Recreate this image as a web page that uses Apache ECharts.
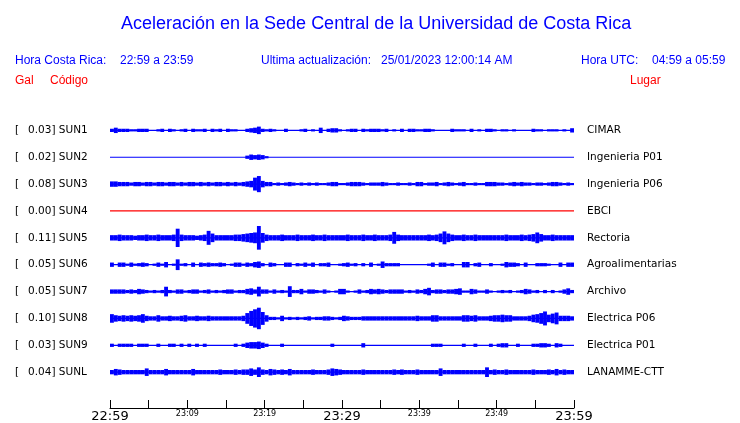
<!DOCTYPE html>
<html><head><meta charset="utf-8">
<script src="https://cdn.jsdelivr.net/npm/echarts@6/dist/echarts.min.js"></script>
<style>html,body{margin:0;padding:0;background:#fff}#c{width:740px;height:423px}</style>
</head><body><div id="c"></div>
<script>
// ---- data ----
const codes  = ['SUN1','SUN2','SUN3','SUN4','SUN5','SUN6','SUN7','SUN8','SUN9','SUNL'];
const peaks  = ['0.03','0.02','0.08','0.00','0.11','0.05','0.05','0.10','0.03','0.04'];
const places = ['CIMAR','Ingenieria P01','Ingenieria P06','EBCI','Rectoria','Agroalimentarias','Archivo','Electrica P06','Electrica P01','LANAMME-CTT'];
const tickLabels = ['22:59','','23:09','','23:19','','23:29','','23:39','','23:49','','23:59'];
const binMinutes = 0.5;     // each envelope character covers half a minute
const ampUnit = 0.005;      // Gal per envelope step (base-36 digit)
const traceSpacing = 0.25;  // Gal between trace baselines

const envSUN1 = "3533322333"+"0023032023"+"0322303230"+"3220034573"+"2320030002"+"3020503442"+"0233032333"+"2302030332"+"2332000032"+"2203020332"+"0220200003"+"2202220204";
const envSUN2 = "0000000000"+"0000000000"+"0000000000"+"0000035454"+"2000000000"+"0000000000"+"0000000000"+"0000000000"+"0000000000"+"0000000000"+"0000000000"+"0000000000";
const envSUN3 = "5544434434"+"4344344343"+"4434343443"+"4343456cf6"+"4423234323"+"2323223442"+"2344432333"+"4322322324"+"4233423432"+"3422322444"+"3323434332"+"3323443232";
const envSUN4 = "0000000000"+"0000000000"+"0000000000"+"0000000000"+"0000000000"+"0000000000"+"0000000000"+"0000000000"+"0000000000"+"0000000000"+"0000000000"+"0000000000";
const envSUN5 = "5565554556"+"5565556h65"+"55456d8555"+"5566789am9"+"6555655565"+"5565565555"+"5655565565"+"556b655555"+"556568c865"+"5655655555"+"5565556567"+"a755655555";
const envSUN6 = "4044242343"+"0242502a23"+"0404343343"+"0244243563"+"0430044032"+"4240334002"+"3423030402"+"6333300000"+"0024044230"+"0550340030"+"0254430400"+"3332004044";
const envSUN7 = "4444343543"+"2323932442"+"3442342323"+"4423356494"+"424232a335"+"2443242025"+"5202423545"+"4344442324"+"3573443445"+"6225422420"+"2323023542"+"3030302463";
const envSUN8 = "8656565685"+"4464454456"+"4454454444"+"44445aehkc"+"6332523232"+"3423344323"+"5433344444"+"4444444445"+"4446644444"+"4665644456"+"6766444457"+"8ad79b5554";
const envSUN9 = "3033330333"+"0030033030"+"3030300000"+"0030356675"+"3000300000"+"0000000300"+"0000040000"+"0000000000"+"0003330000"+"0300300030"+"3440030003"+"3443043000";
const envSUNL = "4654444447"+"4444644444"+"4644444454"+"4454557595"+"4654546444"+"4454445765"+"4444454444"+"4445454445"+"4444474444"+"4444444945"+"4454444445"+"4445464544";
const envelopes = [envSUN1,envSUN2,envSUN3,envSUN4,envSUN5,envSUN6,envSUN7,envSUN8,envSUN9,envSUNL];

// ---- chart ----
const BLUE = '#0000ff', RED = '#ff0000';
const bases = codes.map((c, i) => -traceSpacing * i);
const yMin = -traceSpacing * (codes.length - 1) - 1/3;
const yMax = traceSpacing;

const series = [];
codes.forEach((code, i) => {
  const color = code === 'SUN4' ? RED : BLUE;
  series.push({
    type: 'line', data: [[0, bases[i]], [60, bases[i]]], symbol: 'none',
    lineStyle: { color: color, width: 1.2 }, silent: true, animation: false, z: 3
  });
  const d = [];
  const env = envelopes[i];
  for (let k = 0; k < env.length; k++) {
    const a = parseInt(env[k], 36);
    if (a > 0) d.push([k * binMinutes, (k + 1) * binMinutes, bases[i] + a * ampUnit, bases[i] - a * ampUnit]);
  }
  series.push({
    type: 'custom', data: d, encode: { x: [0, 1], y: [2, 3] }, silent: true, animation: false, z: 2,
    renderItem: function (params, api) {
      const p0 = api.coord([api.value(0), api.value(2)]);
      const p1 = api.coord([api.value(1), api.value(3)]);
      return { type: 'rect', shape: { x: p0[0], y: p0[1], width: p1[0] - p0[0], height: p1[1] - p0[1] }, style: { fill: color } };
    }
  });
});

function idxOf(v) { return Math.round(-v / traceSpacing); }

const hdrFont = '12px "Liberation Sans", Arial, sans-serif';
function txt(x, y, text, fill) {
  return { type: 'text', x: x, y: y, style: { text: text, fill: fill, font: hdrFont, verticalAlign: 'middle' } };
}

const chart = echarts.init(document.getElementById('c'), null, { renderer: 'canvas' });
chart.setOption({
  animation: false,
  backgroundColor: '#fff',
  title: {
    text: 'Aceleración en la Sede Central de la Universidad de Costa Rica',
    left: 116, top: 10,
    textStyle: { color: BLUE, fontSize: 18, fontWeight: 'normal', fontFamily: '"Liberation Sans", Arial, sans-serif' }
  },
  graphic: [
    txt(15, 61, 'Hora Costa Rica:', BLUE),
    txt(120, 61, '22:59 a 23:59', BLUE),
    txt(261, 61, 'Ultima actualización:', BLUE),
    txt(381, 61, '25/01/2023 12:00:14 AM', BLUE),
    txt(581, 61, 'Hora UTC:', BLUE),
    txt(652, 61, '04:59 a 05:59', BLUE),
    txt(15, 81, 'Gal', RED),
    txt(50, 81, 'Código', RED),
    txt(630, 81, 'Lugar', RED)
  ],
  grid: { left: 110, right: 166, top: 103.5, height: 306, containLabel: false },
  xAxis: {
    type: 'value', min: 0, max: 60, interval: 5,
    axisLine: { show: true, onZero: false, lineStyle: { color: '#000', width: 1 } },
    axisTick: { show: true, inside: true, length: 8, lineStyle: { color: '#000' } },
    splitLine: { show: false },
    axisLabel: {
      margin: 2, showMinLabel: true, showMaxLabel: true,
      formatter: function (v) {
        const i = Math.round(v / 5);
        const s = tickLabels[i] || '';
        if (!s) return '';
        return (i % 6 === 0) ? '{big|' + s + '}' : '{small|' + s + '}';
      },
      rich: {
        big: { fontSize: 13, fontFamily: '"DejaVu Sans"', color: '#000' },
        small: { fontSize: 8, fontFamily: '"DejaVu Sans"', color: '#000', padding: [0, 0, 3, 0] }
      }
    }
  },
  yAxis: [
    {
      type: 'value', min: yMin, max: yMax, position: 'left',
      axisLine: { show: false }, axisTick: { show: false }, splitLine: { show: false },
      axisLabel: {
        customValues: bases, align: 'left', margin: 95,
        fontFamily: '"DejaVu Sans"', fontSize: 10.5, color: '#000',
        formatter: function (v) { const i = idxOf(v); return '{br|[}' + peaks[i] + '] ' + codes[i]; },
        rich: { br: { width: 13, fontFamily: '"DejaVu Sans"', fontSize: 10.5, color: '#000' } }
      }
    },
    {
      type: 'value', min: yMin, max: yMax, position: 'right',
      axisLine: { show: false }, axisTick: { show: false }, splitLine: { show: false },
      axisLabel: {
        customValues: bases, align: 'left', margin: 13,
        fontFamily: '"DejaVu Sans"', fontSize: 10.5, color: '#000',
        formatter: function (v) { return places[idxOf(v)]; }
      }
    }
  ],
  series: series
});
</script>
</body></html>
